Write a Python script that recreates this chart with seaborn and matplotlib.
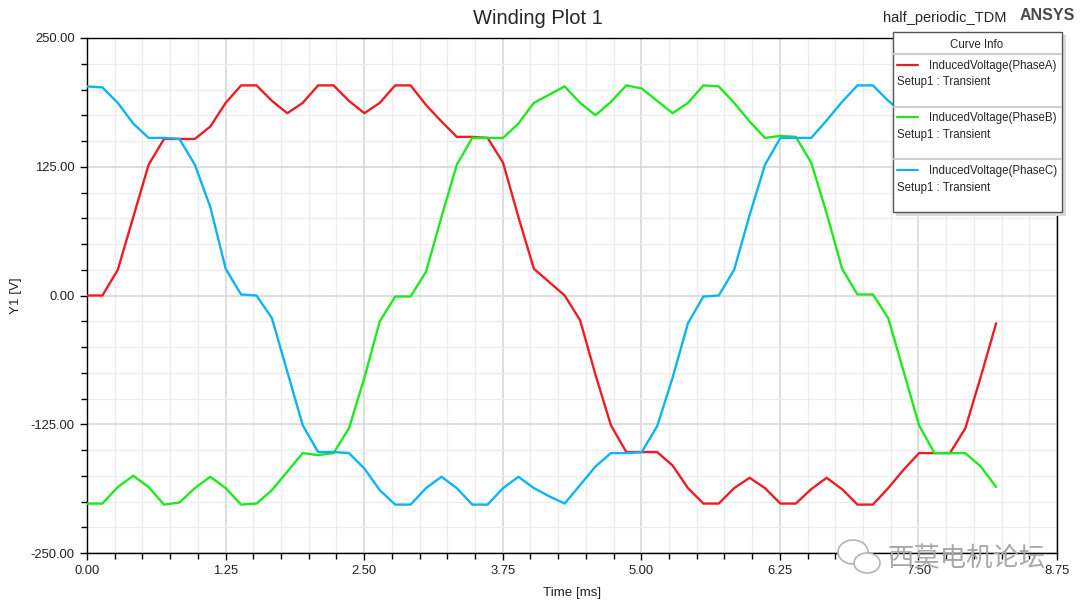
import matplotlib
matplotlib.use('Agg')
import matplotlib.pyplot as plt
import numpy as np
import pandas as pd
import seaborn as sns
from matplotlib.patches import Rectangle, Ellipse
from matplotlib.lines import Line2D
from matplotlib.ticker import MultipleLocator, FormatStrFormatter

sns.set_style('white')
plt.rcParams['font.family'] = ['Liberation Sans', 'DejaVu Sans']
plt.rcParams['axes.unicode_minus'] = False

# time samples [ms]
time_ms = [0.000, 0.139, 0.278, 0.417, 0.556, 0.695, 0.834, 0.973, 1.112, 1.251,
           1.390, 1.529, 1.668, 1.807, 1.946, 2.085, 2.224, 2.363, 2.502, 2.641,
           2.780, 2.919, 3.058, 3.197, 3.336, 3.475, 3.614, 3.753, 3.892, 4.031,
           4.170, 4.309, 4.448, 4.587, 4.726, 4.865, 5.004, 5.143, 5.282, 5.421,
           5.560, 5.699, 5.838, 5.977, 6.116, 6.255, 6.394, 6.533, 6.672, 6.811,
           6.950, 7.089, 7.228, 7.367, 7.506, 7.645, 7.784, 7.923, 8.062, 8.201]

phase_a = [0, 0, 25, 76, 127, 152, 152, 152, 164, 187,
           204, 204, 189, 177, 187, 204, 204, 189, 177, 187,
           204, 204, 185, 169, 154, 154, 153, 129, 76, 26,
           13, 0, -24, -77, -126, -152, -152, -152, -165, -187,
           -202, -202, -187, -177, -187, -202, -202, -188, -177, -188,
           -203, -203, -187, -169, -153, -153, -153, -129, -79, -27]

phase_b = [-202, -202, -186, -175, -186, -203, -201, -187, -176, -187,
           -203, -202, -189, -171, -153, -155, -153, -129, -80, -25,
           -1, -1, 23, 76, 127, 153, 153, 153, 167, 187,
           195, 203, 187, 175, 188, 204, 201, 189, 177, 187,
           204, 203, 187, 169, 153, 155, 154, 129, 80, 26,
           1, 1, -22, -74, -126, -153, -153, -153, -166, -186]

phase_c = [203, 202, 187, 167, 153, 153, 152, 127, 86, 26,
           1, 0, -22, -74, -126, -152, -152, -153, -168, -189,
           -203, -203, -187, -176, -187, -203, -203, -187, -176, -187,
           -195, -202, -184, -166, -153, -153, -152, -127, -80, -27,
           -1, 0, 25, 78, 127, 153, 153, 153, 170, 188,
           204, 204, 189, 177, 187, 204, 204, 189, 177, 187]

names = ['InducedVoltage(PhaseA)', 'InducedVoltage(PhaseB)', 'InducedVoltage(PhaseC)']
colors = {names[0]: '#ee1c25', names[1]: '#1dea1d', names[2]: '#0db4f4'}

df = pd.concat([
    pd.DataFrame({'t': time_ms, 'v': phase_a, 'curve': names[0]}),
    pd.DataFrame({'t': time_ms, 'v': phase_b, 'curve': names[1]}),
    pd.DataFrame({'t': time_ms, 'v': phase_c, 'curve': names[2]}),
])

W, H = 1080, 606
fig = plt.figure(figsize=(W / 100, H / 100), dpi=100)
ax = fig.add_axes([87 / W, 1 - 553 / H, (1057 - 87) / W, (553 - 38) / H])

sns.lineplot(data=df, x='t', y='v', hue='curve', palette=colors, linewidth=1.7,
             legend=False, ax=ax, zorder=3)

ax.set_xlim(0, 8.75)
ax.set_ylim(-250, 250)
ax.xaxis.set_major_locator(MultipleLocator(1.25))
ax.xaxis.set_minor_locator(MultipleLocator(0.25))
ax.yaxis.set_major_locator(MultipleLocator(125))
ax.yaxis.set_minor_locator(MultipleLocator(25))
ax.xaxis.set_major_formatter(FormatStrFormatter('%.2f'))
ax.yaxis.set_major_formatter(FormatStrFormatter('%.2f'))
ax.grid(which='major', color='#d4d4d4', linewidth=1.1, zorder=0)
ax.grid(which='minor', color='#ececec', linewidth=0.9, zorder=0)
ax.set_axisbelow(True)
ax.tick_params(which='major', direction='out', length=5, width=1, color='black',
               labelsize=9.4, labelcolor='#222222', bottom=True, left=True, pad=4)
ax.tick_params(which='minor', direction='out', length=4, width=1, color='black',
               bottom=True, left=True)
for s in ax.spines.values():
    s.set_color('black')
    s.set_linewidth(1)
ax.set_xlabel('Time [ms]', fontsize=9.6, color='#222222', labelpad=7)
ax.set_ylabel('Y1 [V]', fontsize=9.6, color='#222222', labelpad=6)

# header texts
fig.text(538 / W, 1 - 18 / H, 'Winding Plot 1', ha='center', va='center', fontsize=14.5)
fig.text(883 / W, 1 - 18 / H, 'half_periodic_TDM', ha='left', va='center', fontsize=10.5)
fig.text(1020 / W, 1 - 16 / H, 'ANSYS', ha='left', va='center', fontsize=11.5,
         fontweight='bold', color='#4a4a4a')


def fx(x):
    return x / W


def fy(y):
    return 1 - y / H


# curve info box
fig.add_artist(Rectangle((fx(896), fy(216)), fx(1066) - fx(896), fy(35) - fy(216),
                         transform=fig.transFigure, facecolor='#d9d9d9', edgecolor='none', zorder=9))
fig.add_artist(Rectangle((fx(893), fy(212)), fx(1062) - fx(893), fy(32) - fy(212),
                         transform=fig.transFigure, facecolor='white', edgecolor='#555555',
                         linewidth=1, zorder=10))
fig.text(fx(977), fy(45), 'Curve Info', ha='center', va='center', fontsize=8.3, zorder=11)
for ysep in [54, 107, 159]:
    fig.add_artist(Line2D([fx(894), fx(1061)], [fy(ysep), fy(ysep)], transform=fig.transFigure,
                          color='#cfcfcf', linewidth=1.5, zorder=11))
for k, (ny, sy) in enumerate([(66, 82), (118, 135), (171, 188)]):
    fig.add_artist(Line2D([fx(897), fx(918)], [fy(ny - 1), fy(ny - 1)], transform=fig.transFigure,
                          color=colors[names[k]], linewidth=1.6, zorder=11))
    fig.text(fx(929), fy(ny), names[k], ha='left', va='center', fontsize=8.3, zorder=11)
    fig.text(fx(897), fy(sy), 'Setup1 : Transient', ha='left', va='center', fontsize=8.3, zorder=11)

# watermark
fig.add_artist(Ellipse((fx(853), fy(552)), fx(30) - fx(0), fy(0) - fy(24), transform=fig.transFigure,
                       facecolor='white', edgecolor='#b4b4b4', linewidth=1.2, zorder=12))
fig.add_artist(Ellipse((fx(867), fy(563)), fx(26) - fx(0), fy(0) - fy(20), transform=fig.transFigure,
                       facecolor='white', edgecolor='#b4b4b4', linewidth=1.2, zorder=13))
fig.text(fx(887), fy(559), '西莫电机论坛', ha='left', va='center', fontsize=19,
         color='#a8a8a8', family=['Noto Sans CJK SC', 'DejaVu Sans'], zorder=14)

fig.savefig('out.png', dpi=100)
